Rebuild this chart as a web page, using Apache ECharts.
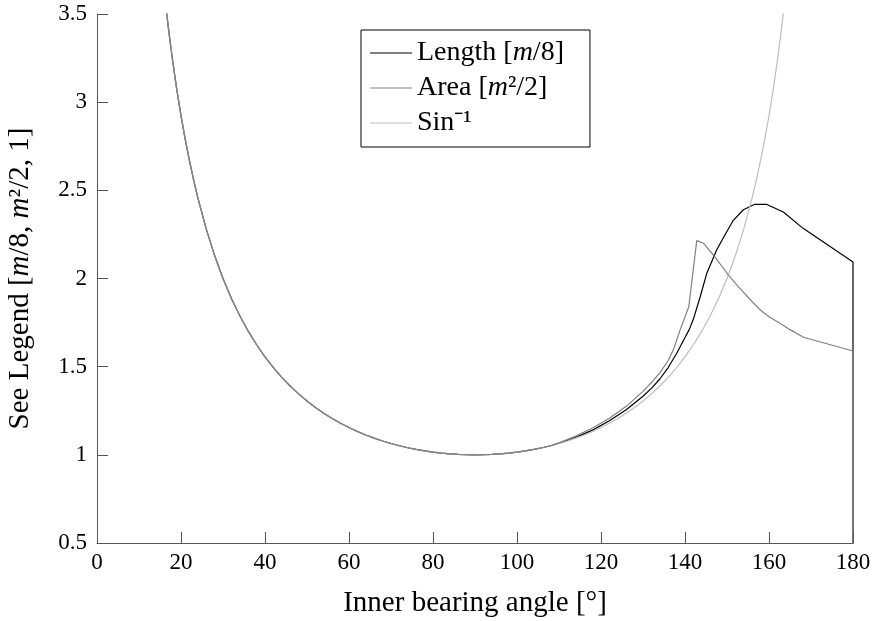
<!DOCTYPE html>
<html>
<head>
<meta charset="utf-8">
<title>Inner bearing angle</title>
<script src="https://cdn.jsdelivr.net/npm/echarts@6/dist/echarts.min.js"></script>
<style>
  html, body { margin: 0; padding: 0; background: #fff; }
  #chart { width: 874px; height: 621px; }
</style>
</head>
<body>
<div id="chart"></div>
<script>
const leftX = [14, 15, 16, 17, 18, 19, 20, 21, 22, 23, 24, 26, 28, 30, 32, 34, 36, 38, 40, 42, 44, 46, 48, 50,
  52, 54, 56, 58, 60, 62, 64, 66, 68, 70, 72, 74, 76, 78, 80, 82, 84, 86, 88, 90,
  92, 94, 96, 98, 100, 102, 104, 106, 108];
const leftY = [4.1336, 3.8637, 3.6280, 3.4203, 3.2361, 3.0716, 2.9238, 2.7904, 2.6695, 2.5593, 2.4586, 2.2812,
  2.1301, 2.0, 1.8871, 1.7883, 1.7013, 1.6243, 1.5557, 1.4945, 1.4396, 1.3902, 1.3456, 1.3054,
  1.2690, 1.2361, 1.2062, 1.1792, 1.1547, 1.1326, 1.1126, 1.0946, 1.0785, 1.0642, 1.0515, 1.0403,
  1.0306, 1.0223, 1.0154, 1.0098, 1.0055, 1.0024, 1.0006, 1.0,
  1.0006, 1.0024, 1.0055, 1.0098, 1.0154, 1.0223, 1.0306, 1.0403, 1.0515];

// right branch, one tail per series
const sinX = [110, 112, 114, 116, 118, 120, 122, 124, 126, 128, 130, 132, 134, 136, 138, 140, 142, 144, 146,
  148, 150, 152, 154, 156, 157, 158, 159, 160, 161, 162, 163, 164, 165, 166];
const sinY = [1.0642, 1.0785, 1.0946, 1.1126, 1.1326, 1.1547, 1.1792, 1.2062, 1.2361, 1.2690, 1.3054, 1.3456,
  1.3902, 1.4396, 1.4945, 1.5557, 1.6243, 1.7013, 1.7883, 1.8871, 2.0, 2.1301, 2.2812, 2.4586,
  2.5593, 2.6695, 2.7904, 2.9238, 3.0716, 3.2361, 3.4203, 3.6280, 3.8637, 4.1336];

const lengthX = [110, 114, 118, 122, 126, 130, 132, 134, 136, 138, 140, 141, 142, 143.6, 145.2, 147.5, 149.1,
  151.5, 153.9, 156.5, 159.5, 163.4, 168.2, 180, 180];
const lengthY = [1.066, 1.099, 1.140, 1.193, 1.256, 1.332, 1.377, 1.43, 1.495, 1.575, 1.665, 1.71, 1.77, 1.895,
  2.03, 2.16, 2.23, 2.33, 2.39, 2.42, 2.42, 2.377, 2.283, 2.094, 0];

const areaX = [110, 114, 118, 122, 126, 130, 132, 134, 136, 137.2, 138.8, 140.9, 142.8, 144.4, 147, 148.3,
  150.3, 152, 154, 156, 158, 160, 162.6, 165, 168.2, 180, 180];
const areaY = [1.068, 1.106, 1.152, 1.208, 1.275, 1.36, 1.41, 1.465, 1.535, 1.594, 1.706, 1.84, 2.215, 2.20,
  2.125, 2.085, 2.02, 1.972, 1.92, 1.868, 1.82, 1.783, 1.746, 1.71, 1.667, 1.589, 0];

const xTicks = [0, 20, 40, 60, 80, 100, 120, 140, 160, 180];
const yTicks = [0.5, 1, 1.5, 2, 2.5, 3, 3.5];

const font = 'Liberation Serif';

function pairs(xs, ys) {
  return xs.map((x, i) => [x, ys[i]]);
}

const rich = {
  t: { fontFamily: font, fontSize: 28, color: '#000' },
  i: { fontFamily: font, fontSize: 28, color: '#000', fontStyle: 'italic' }
};
const richTitle = {
  t: { fontFamily: font, fontSize: 29, color: '#000' },
  i: { fontFamily: font, fontSize: 29, color: '#000', fontStyle: 'italic' }
};

const legendText = {
  'Length': '{t|Length [}{i|m}{t|/8]}',
  'Area': '{t|Area [}{i|m}{t|²/2]}',
  'Sin': '{t|Sin⁻¹}'
};

const chart = echarts.init(document.getElementById('chart'));

const axisColor = '#555';

chart.setOption({
  animation: false,
  backgroundColor: '#fff',
  grid: { left: 97, right: 21, top: 14, bottom: 78, containLabel: false, outerBoundsMode: 'none' },
  legend: {
    orient: 'vertical',
    left: 361,
    top: 30,
    data: ['Length', 'Area', 'Sin'],
    icon: 'rect',
    itemWidth: 42,
    itemHeight: 1,
    itemGap: 7,
    itemTextGap: 9,
    padding: [9, 26, 10, 9],
    borderColor: '#000',
    borderWidth: 1,
    formatter: name => legendText[name],
    textStyle: { fontFamily: font, fontSize: 28, color: '#000', rich: rich }
  },
  xAxis: {
    type: 'value',
    min: xTicks[0],
    max: xTicks[xTicks.length - 1],
    interval: 20,
    name: 'Inner bearing angle [°]',
    nameLocation: 'middle',
    nameGap: 46,
    nameTextStyle: { fontFamily: font, fontSize: 29, color: '#000' },
    axisLine: { show: true, lineStyle: { color: axisColor, width: 1 } },
    axisTick: { show: true, inside: true, length: 11, lineStyle: { color: axisColor } },
    axisLabel: { fontFamily: font, fontSize: 23, color: '#000', margin: 8 },
    splitLine: { show: false }
  },
  yAxis: {
    type: 'value',
    min: yTicks[0],
    max: yTicks[yTicks.length - 1],
    interval: 0.5,
    name: '{t|See Legend [}{i|m}{t|/8, }{i|m}{t|²/2, 1]}',
    nameLocation: 'middle',
    nameRotate: 90,
    nameGap: 62,
    nameTextStyle: { rich: richTitle },
    axisLine: { show: true, lineStyle: { color: axisColor, width: 1 } },
    axisTick: { show: true, inside: true, length: 11, lineStyle: { color: axisColor } },
    axisLabel: { fontFamily: font, fontSize: 23, color: '#000', margin: 10 },
    splitLine: { show: false }
  },
  series: [
    {
      name: 'Length',
      type: 'line',
      symbol: 'none',
      z: 2,
      itemStyle: { color: '#000' },
      lineStyle: { color: '#000', width: 1.2 },
      data: pairs(leftX.concat(lengthX), leftY.concat(lengthY))
    },
    {
      name: 'Area',
      type: 'line',
      symbol: 'none',
      z: 4,
      itemStyle: { color: '#808080' },
      lineStyle: { color: '#808080', width: 1.2 },
      data: pairs(leftX.concat(areaX), leftY.concat(areaY))
    },
    {
      name: 'Sin',
      type: 'line',
      symbol: 'none',
      z: 3,
      itemStyle: { color: '#bdbdbd' },
      lineStyle: { color: '#bdbdbd', width: 1.2 },
      data: pairs(leftX.concat(sinX), leftY.concat(sinY))
    }
  ]
});
</script>
</body>
</html>
